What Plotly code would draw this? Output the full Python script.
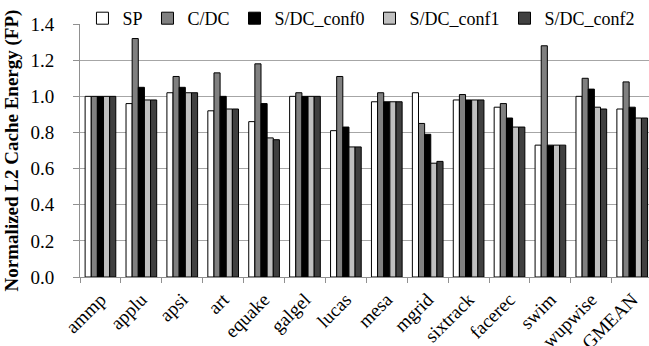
import plotly.graph_objects as go

categories = ["ammp", "applu", "apsi", "art", "equake", "galgel", "lucas", "mesa",
              "mgrid", "sixtrack", "facerec", "swim", "wupwise", "GMEAN"]
sp     = [1.00, 0.96, 1.02, 0.92, 0.86, 1.00, 0.81, 0.97, 1.02, 0.98, 0.94, 0.73, 1.00, 0.93]
c_dc   = [1.00, 1.32, 1.11, 1.13, 1.18, 1.02, 1.11, 1.02, 0.85, 1.01, 0.96, 1.28, 1.10, 1.08]
conf0  = [1.00, 1.05, 1.05, 1.00, 0.96, 1.00, 0.83, 0.97, 0.79, 0.98, 0.88, 0.73, 1.04, 0.94]
conf1  = [1.00, 0.98, 1.02, 0.93, 0.77, 1.00, 0.72, 0.97, 0.63, 0.98, 0.83, 0.73, 0.94, 0.88]
conf2  = [1.00, 0.98, 1.02, 0.93, 0.76, 1.00, 0.72, 0.97, 0.64, 0.98, 0.83, 0.73, 0.93, 0.88]
series_names = ["SP", "C/DC", "S/DC_conf0", "S/DC_conf1", "S/DC_conf2"]
series_colors = ["#ffffff", "#808080", "#000000", "#c0c0c0", "#404040"]
y_ticks = [0.0, 0.2, 0.4, 0.6, 0.8, 1.0, 1.2, 1.4]

FONT = "Liberation Serif, Times New Roman, serif"

fig = go.Figure()
for name, vals, col in zip(series_names, [sp, c_dc, conf0, conf1, conf2], series_colors):
    fig.add_trace(go.Bar(x=categories, y=vals, name=name,
                         marker=dict(color=col, line=dict(color="#000000", width=1))))

fig.update_layout(
    width=649, height=346,
    margin=dict(l=80, r=0, t=24, b=69, autoexpand=False),
    paper_bgcolor="white", plot_bgcolor="white",
    barmode="group", bargap=0.25, bargroupgap=0,
    font=dict(family=FONT, size=19, color="black"),
    legend=dict(orientation="h", x=0.985, xanchor="right",
                yref="container", y=1.0, yanchor="top",
                font=dict(family=FONT, size=18, color="black"), traceorder="normal",
                itemwidth=30, bgcolor="rgba(0,0,0,0)", borderwidth=0),
    showlegend=True,
)
fig.update_xaxes(
    range=[-0.5, 13.41], tickson="boundaries", ticks="outside", ticklen=5,
    tickcolor="#909090", showline=True, linecolor="#909090", linewidth=1,
    tickangle=-45, tickfont=dict(family=FONT, size=19, color="black"), showgrid=False,
    ticklabelstandoff=3, automargin=False,
)
fig.update_yaxes(
    range=[0, 1.4005], tickvals=y_ticks, tickformat=".1f", ticks="outside", ticklen=6,
    tickcolor="#909090", showline=True, linecolor="#909090", linewidth=1,
    showgrid=True, gridcolor="#a6a6a6", gridwidth=1, zeroline=False,
    tickfont=dict(family=FONT, size=19, color="black"), ticklabelstandoff=15,
    automargin=False,
    title=dict(text="<b>Normalized L2 Cache Energy (FP)</b>",
               font=dict(family=FONT, size=19, color="black"), standoff=6),
)
fig.write_html("out.html", config={"displayModeBar": False},
               post_script="document.body.style.margin='0px';")
